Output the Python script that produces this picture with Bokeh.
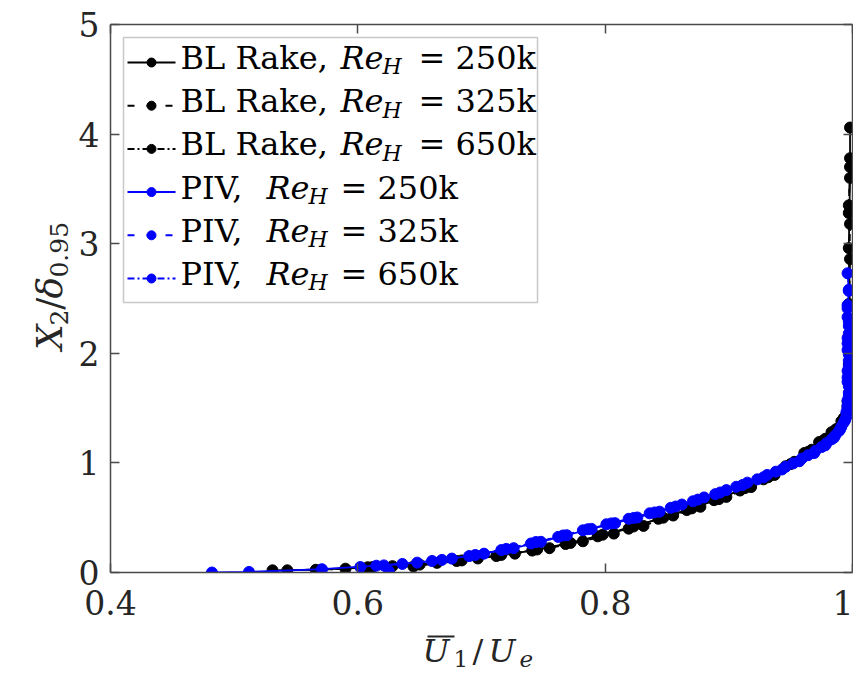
import math
from bokeh.plotting import figure
from bokeh.layouts import row, column
from bokeh.models import Label, BoxAnnotation, LinearAxis, FixedTicker, Range1d
from bokeh.embed import file_html
from bokeh.resources import INLINE

# ---------------- data ----------------
bl_250_x = [0.531, 0.566, 0.608, 0.645, 0.680, 0.712, 0.741, 0.768, 0.794, 0.819, 0.843, 0.866, 0.888,
            0.909, 0.928, 0.946, 0.961, 0.973, 0.983, 0.991, 0.996, 0.997, 0.998, 0.997, 0.998, 0.998]
bl_250_y = [0.020, 0.025, 0.048, 0.055, 0.105, 0.150, 0.200, 0.260, 0.330, 0.400, 0.490, 0.570, 0.660,
            0.748, 0.850, 0.970, 1.090, 1.190, 1.280, 1.380, 1.500, 1.800, 2.300, 2.960, 3.600, 4.060]

bl_325_x = [0.543, 0.590, 0.628, 0.664, 0.697, 0.727, 0.755, 0.782, 0.807, 0.831, 0.855, 0.877, 0.898,
            0.918, 0.937, 0.953, 0.967, 0.978, 0.987, 0.993, 0.996, 0.997, 0.998, 0.997, 0.998]
bl_325_y = [0.020, 0.035, 0.058, 0.088, 0.128, 0.172, 0.222, 0.285, 0.355, 0.425, 0.520, 0.600, 0.690,
            0.780, 0.890, 1.010, 1.120, 1.220, 1.310, 1.410, 1.560, 2.100, 2.860, 3.280, 3.780]

bl_650_x = [0.570, 0.612, 0.650, 0.684, 0.716, 0.745, 0.772, 0.798, 0.823, 0.847, 0.870, 0.892, 0.913,
            0.932, 0.950, 0.964, 0.976, 0.986, 0.993, 0.996, 0.997, 0.997, 0.998, 0.997, 0.998]
bl_650_y = [0.022, 0.050, 0.072, 0.110, 0.160, 0.210, 0.270, 0.345, 0.420, 0.500, 0.585, 0.670, 0.770,
            0.870, 0.990, 1.100, 1.200, 1.300, 1.400, 1.520, 1.900, 2.450, 3.180, 3.350, 3.700]

piv_250_x = [0.482, 0.512, 0.571, 0.615, 0.648, 0.676, 0.702, 0.726, 0.748, 0.769, 0.789, 0.808,
             0.826, 0.844, 0.862, 0.880, 0.898, 0.915, 0.931, 0.946, 0.959, 0.970, 0.979, 0.986,
             0.991, 0.995, 0.996, 0.997, 0.996, 0.997, 0.996, 0.997, 0.996, 0.997, 0.996]
piv_250_y = [0.000, 0.005, 0.030, 0.062, 0.090, 0.127, 0.172, 0.222, 0.280, 0.340, 0.398, 0.450,
             0.502, 0.555, 0.620, 0.685, 0.752, 0.820, 0.890, 0.965, 1.040, 1.110, 1.180, 1.250,
             1.330, 1.420, 1.520, 1.640, 1.780, 1.930, 2.090, 2.250, 2.410, 2.570, 2.730]

piv_325_x = [0.625, 0.621, 0.660, 0.690, 0.716, 0.740, 0.762, 0.782, 0.801, 0.819, 0.836, 0.853,
             0.871, 0.889, 0.906, 0.923, 0.938, 0.952, 0.964, 0.975, 0.983, 0.989, 0.993, 0.995,
             0.996, 0.997, 0.996, 0.997, 0.996, 0.997, 0.996, 0.997]
piv_325_y = [0.012, 0.065, 0.105, 0.150, 0.205, 0.265, 0.325, 0.385, 0.440, 0.490, 0.540, 0.590,
             0.650, 0.715, 0.782, 0.850, 0.920, 0.995, 1.070, 1.145, 1.215, 1.290, 1.370, 1.460,
             1.570, 1.700, 1.840, 1.990, 2.140, 2.290, 2.440, 2.580]

piv_650_x = [0.602, 0.636, 0.668, 0.695, 0.720, 0.744, 0.766, 0.786, 0.805, 0.823, 0.840, 0.857,
             0.875, 0.893, 0.911, 0.928, 0.943, 0.957, 0.969, 0.978, 0.985, 0.990, 0.994, 0.996,
             0.997, 0.996, 0.997, 0.996, 0.997, 0.996]
piv_650_y = [0.050, 0.078, 0.115, 0.160, 0.215, 0.278, 0.338, 0.395, 0.448, 0.498, 0.548, 0.602,
             0.665, 0.730, 0.798, 0.868, 0.940, 1.015, 1.090, 1.160, 1.230, 1.305, 1.390, 1.490,
             1.610, 1.740, 1.880, 2.030, 2.180, 2.330]

legend_prefix = ["BL Rake,", "BL Rake,", "BL Rake,", "PIV,", "PIV,", "PIV,"]
legend_re = ["250k", "325k", "650k", "250k", "325k", "650k"]

x_ticks = [0.4, 0.6, 0.8, 1.0]
x_tick_labels = ["0.4", "0.6", "0.8", "1"]
y_ticks = [0, 1, 2, 3, 4, 5]

# ---------------- styling ----------------
BLACK = "#000000"
BLUE = "#0000ff"
AX = "#4a4a4a"
TXT = "#262626"
FONT = "DejaVu Serif"
DASH = "7 12"
DASHDOT = "7 3 2 3"
BASE_SHIFT = 0.3   # empirical: alphabetic anchor lands ~0.3em below the intended baseline

series = [
    (bl_250_x, bl_250_y, BLACK, "solid"),
    (bl_325_x, bl_325_y, BLACK, DASH),
    (bl_650_x, bl_650_y, BLACK, DASHDOT),
    (piv_250_x, piv_250_y, BLUE, "solid"),
    (piv_325_x, piv_325_y, BLUE, DASH),
    (piv_650_x, piv_650_y, BLUE, DASHDOT),
]

# page layout (pixels)
TOTAL_W, TOTAL_H = 853, 672
YL_W = 74                      # strip left of the plot holding the y label
MAIN_W = TOTAL_W - YL_W
FL, FR, FT, FB = 110, 852, 24, 572   # plot frame edges on the page
MAIN_H = 628
XL_H = TOTAL_H - MAIN_H

p = figure(width=MAIN_W, height=MAIN_H, x_range=Range1d(0.4, 1.0), y_range=Range1d(0, 5),
           output_backend="svg", toolbar_location=None, title=None,
           min_border_left=FL - YL_W, min_border_right=YL_W + MAIN_W - FR,
           min_border_top=FT, min_border_bottom=MAIN_H - FB)
p.xgrid.visible = False
p.ygrid.visible = False
p.outline_line_color = None
p.background_fill_color = "white"
p.border_fill_color = "white"


def style_axis(ax, ticks, show_labels, standoff=10):
    ax.ticker = FixedTicker(ticks=ticks)
    ax.axis_line_color = AX
    ax.axis_line_width = 1.5
    ax.major_tick_line_color = AX
    ax.major_tick_line_width = 1.5
    ax.major_tick_in = 9
    ax.major_tick_out = 0
    ax.minor_tick_line_color = None
    ax.major_label_text_font = FONT
    ax.major_label_standoff = standoff
    if show_labels:
        ax.major_label_text_font_size = "33px"
        ax.major_label_text_color = TXT
    else:
        ax.major_label_text_font_size = "0px"
        ax.major_label_text_color = None
        ax.major_label_standoff = 0


style_axis(p.xaxis[0], x_ticks, True, standoff=17)
p.xaxis[0].major_label_overrides = {t: s for t, s in zip(x_ticks, x_tick_labels)}
style_axis(p.yaxis[0], y_ticks, True, standoff=11)
top_ax = LinearAxis()
style_axis(top_ax, x_ticks, False)
right_ax = LinearAxis()
style_axis(right_ax, y_ticks, False)
p.add_layout(top_ax, "above")
p.add_layout(right_ax, "right")

# data series
for xs, ys, col, dash in series:
    p.line(xs, ys, line_color=col, line_width=1.8, line_dash=dash)
    p.scatter(xs, ys, marker="circle", size=11, fill_color=col, line_color=col)


# ---------------- helpers ----------------
def dx(px):
    return 0.4 + (px - FL) * 0.6 / (FR - FL)


def dy(py):
    return (FB - py) * 5.0 / (FB - FT)


def lab(text, sx, sy, size, italic=False, color=BLACK, angle=0.0, units="screen"):
    """Label whose (sx, sy) locate the intended text baseline start."""
    shift = BASE_SHIFT * size
    if angle == 0.0:
        sy = sy + shift
    else:
        sx = sx - shift
    return Label(x=sx, y=sy, x_units=units, y_units=units, text=text,
                 text_font=FONT, text_font_size=f"{size}px",
                 text_font_style="italic" if italic else "normal",
                 text_color=color, text_align="left", text_baseline="alphabetic",
                 angle=angle)


def strip(w, h):
    f = figure(width=w, height=h, x_range=Range1d(0, w), y_range=Range1d(0, h),
               output_backend="svg", toolbar_location=None, title=None,
               min_border_left=0, min_border_right=0, min_border_top=0, min_border_bottom=0,
               x_axis_location=None, y_axis_location=None)
    f.grid.visible = False
    f.outline_line_color = None
    return f


# ---------------- manual legend (reference pixel layout) ----------------
box = BoxAnnotation(left=123 - FL, right=537 - FL, top=FB - 37, bottom=FB - 302,
                    left_units="screen", right_units="screen", top_units="screen",
                    bottom_units="screen", fill_color="white", fill_alpha=1.0,
                    line_color="#4d4d4d", line_width=1.5, level="annotation")
p.add_layout(box)

for i, (pref, re) in enumerate(zip(legend_prefix, legend_re)):
    _, _, col, dash = series[i]
    cy = 62 + i * 43.2
    yv = dy(cy)
    p.line([dx(127), dx(175)], [yv, yv], line_color=col, line_width=2, line_dash=dash,
           level="overlay")
    p.scatter([dx(151)], [yv], marker="circle", size=9, fill_color=col, line_color=col,
              level="overlay")
    base = cy + 5
    is_bl = pref.startswith("BL")
    xr, xh, xe = (340, 382, 418) if is_bl else (266, 308, 340)
    p.add_layout(lab(pref, 180 - FL, FB - base, 32))
    p.add_layout(lab("Re", xr - FL, FB - base, 32, italic=True))
    p.add_layout(lab("H", xh - FL, FB - (base + 6), 22, italic=True))
    p.add_layout(lab("= " + re, xe - FL, FB - base, 32))

# ---------------- y-axis label strip:  X_2 / delta_0.95 ----------------
R = math.pi / 2
yl = strip(YL_W, MAIN_H)
yl_pieces = [("X", 60, 373, 36, True), ("2", 66, 345, 25, False),
             ("/", 60, 327, 36, False), ("δ", 60, 314, 36, True),
             ("0.95", 66, 290, 25, False)]
for t, px, py, fs, it in yl_pieces:
    yl.add_layout(lab(t, px, MAIN_H - py, fs, italic=it, color=TXT, angle=R, units="data"))

# ---------------- x-axis label strip (full width):  U-bar_1 / U_e ----------------
xl = strip(TOTAL_W, XL_H)
xl_pieces = [("U", 422, 660, 32, True), ("1", 453, 665, 23, False),
             ("/", 472, 660, 32, False), ("U", 488, 660, 32, True),
             ("e", 519, 665, 23, True)]
for t, px, py, fs, it in xl_pieces:
    xl.add_layout(lab(t, px, TOTAL_H - py, fs, italic=it, color=TXT, units="data"))
# overline of U-bar
xl.line([427, 454], [TOTAL_H - 636, TOTAL_H - 636], line_color=TXT, line_width=2)

layout = column(row(yl, p, spacing=0), xl, spacing=0)
open("out.html", "w").write(file_html(layout, INLINE))
